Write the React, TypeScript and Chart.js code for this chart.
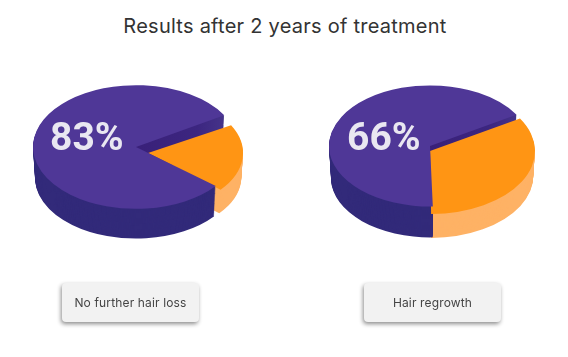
import React, { useEffect, useRef } from "react";
import { Chart, ArcElement, PieController } from "chart.js";

Chart.register(ArcElement, PieController);

const chartTitle = "Results after 2 years of treatment";
const sliceNames = ["Other", "Responded"];
const noLossValues = [17, 83];
const regrowthValues = [34, 66];
const noLossCaption = "No further hair loss";
const regrowthCaption = "Hair regrowth";
const topColors = ["#ff9514", "#4f3797"];
const sideColors = ["#feb265", "#322a7a"];

type PieProps = {
  values: number[];
  label: string;
  cx: number;
  cy: number;
  radius: number;
  squash: number;
  depth: number;
  rotation: number;
  orange: { dx: number; dy: number; r: number; startNudge: number; endNudge: number; restNudge: number; sideExtra: number };
  labelX: number;
};

const SIZE = 280;
const DEG = Math.PI / 180;

function Pie3D({ values, label, cx, cy, radius, squash, depth, rotation, orange, labelX }: PieProps) {
  const ref = useRef<HTMLCanvasElement>(null);
  useEffect(() => {
    const tilt = {
      id: "tilt",
      afterDatasetsUpdate(chart: any) {
        const [arc, rest] = chart.getDatasetMeta(0).data;
        arc.x += orange.dx;
        arc.y += orange.dy / squash;
        arc.outerRadius = orange.r;
        arc.startAngle += orange.startNudge * DEG;
        arc.endAngle += orange.endNudge * DEG;
        rest.startAngle += orange.restNudge * DEG;
      },
      beforeDatasetsDraw(chart: any) {
        const ctx = chart.ctx;
        const arcs = chart.getDatasetMeta(0).data;
        const ox = arcs[1].x;
        const oy = arcs[1].y;
        ctx.save();
        ctx.translate(ox, oy);
        ctx.scale(1, squash);
        ctx.translate(-ox, -oy);
        const drawSide = (idx: number, color: any) => {
          const arc = arcs[idx];
          const shim = Object.create(arc, {
            options: { value: { ...arc.options, backgroundColor: color, borderWidth: 0 } },
            pixelMargin: { value: 0, writable: true },
            fullCircles: { value: 0, writable: true },
          });
          const d = idx === 0 ? depth - orange.dy + orange.sideExtra : depth;
          for (let i = d; i >= 1; i -= 1) {
            const s = 1 - (0.02 * i) / depth;
            ctx.save();
            ctx.translate(ox, oy + i / squash);
            ctx.scale(s, s);
            ctx.translate(-ox, -oy);
            arc.draw.call(shim, ctx);
            ctx.restore();
          }
        };
        drawSide(0, sideColors[0]);
        drawSide(1, sideColors[1]);
        // The cut face above the orange slice fades towards the rim.
        const fade = ctx.createLinearGradient(ox, 0, ox + radius, 0);
        fade.addColorStop(0, "#392079");
        fade.addColorStop(0.6, "#3c2680");
        fade.addColorStop(1, "#4a3a8e");
        ctx.save();
        ctx.beginPath();
        ctx.rect(0, 0, SIZE, oy + orange.dy / squash);
        ctx.clip();
        drawSide(1, fade);
        ctx.restore();
      },
      afterDatasetsDraw(chart: any) {
        chart.ctx.restore();
      },
    };
    const chart = new Chart(ref.current as HTMLCanvasElement, {
      type: "pie",
      data: {
        labels: sliceNames,
        datasets: [{ data: values, backgroundColor: topColors, borderWidth: 0, hoverOffset: 0 }],
      },
      options: {
        responsive: false,
        animation: false,
        events: [],
        rotation,
        radius,
        layout: { padding: 0 },
        plugins: { legend: { display: false }, tooltip: { enabled: false } },
      } as any,
      plugins: [tilt as any],
    });
    return () => chart.destroy();
  }, []);
  return (
    <>
      <canvas
        ref={ref}
        width={SIZE}
        height={SIZE}
        style={{ position: "absolute", left: cx - SIZE / 2, top: cy - SIZE / 2, width: SIZE, height: SIZE }}
      />
      <div
        style={{
          position: "absolute",
          left: labelX,
          top: 113,
          font: "700 39px Roboto, sans-serif",
          lineHeight: "48px",
          color: "#e9e7f1",
        }}
      >
        {label}
      </div>
    </>
  );
}

function Caption({ text, left }: { text: string; left: number }) {
  return (
    <div
      style={{
        position: "absolute",
        left,
        top: 283,
        width: 137,
        height: 39,
        textAlign: "center",
        background: "#f2f2f2",
        borderRadius: 4,
        boxShadow: "-1px 2px 4px rgba(0,0,0,0.45)",
        font: "400 12px Inter, sans-serif",
        letterSpacing: 0.15,
        lineHeight: "39px",
        color: "#444",
      }}
    >
      {text}
    </div>
  );
}

export default function App() {
  useEffect(() => {
    document.body.style.margin = "0";
    document.body.style.background = "#fff";
  }, []);
  return (
    <div style={{ position: "relative", width: 568, height: 357, overflow: "hidden", background: "#fff" }}>
      <div
        style={{
          position: "absolute",
          left: 0,
          width: 570,
          top: 12,
          textAlign: "center",
          font: "400 20px Inter, sans-serif",
          letterSpacing: 0.25,
          lineHeight: "28px",
          color: "#333",
        }}
      >
        {chartTitle}
      </div>
      <Pie3D
        values={noLossValues}
        label="83%"
        cx={136}
        cy={147}
        radius={103}
        squash={0.6}
        depth={31}
        rotation={59}
        orange={{ dx: 12, dy: 6, r: 95, startNudge: 2, endNudge: 10, restNudge: 9, sideExtra: -1 }}
        labelX={50}
      />
      <Pie3D
        values={regrowthValues}
        label="66%"
        cx={430}
        cy={146}
        radius={101}
        squash={0.6}
        depth={32}
        rotation={59}
        orange={{ dx: 0, dy: 5, r: 105, startNudge: 0, endNudge: -2, restNudge: -3, sideExtra: -2 }}
        labelX={347}
      />
      <Caption text={noLossCaption} left={62} />
      <Caption text={regrowthCaption} left={364} />
    </div>
  );
}
